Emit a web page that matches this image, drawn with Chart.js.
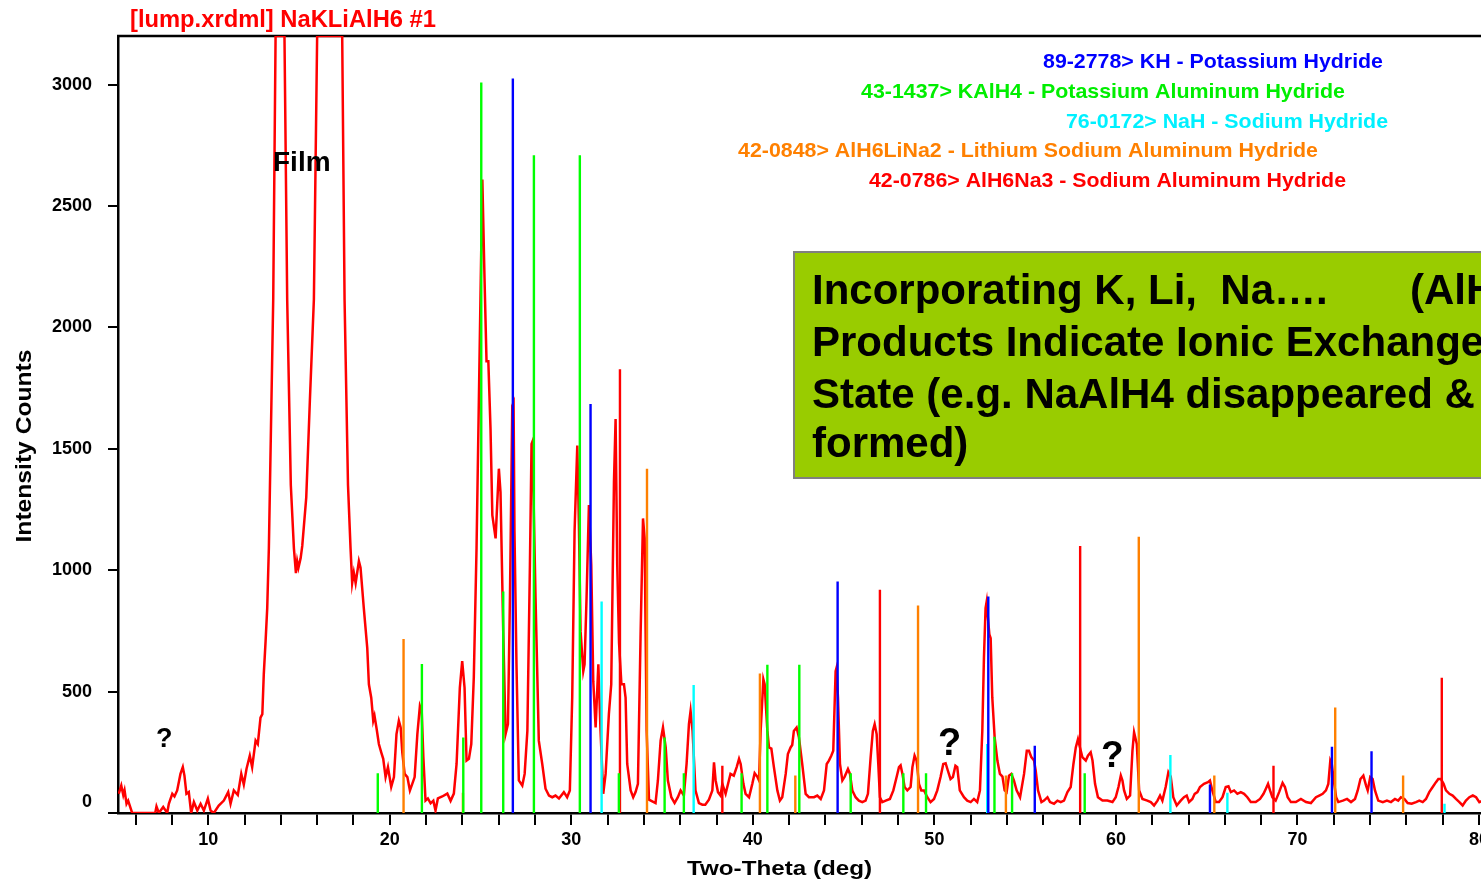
<!DOCTYPE html>
<html><head><meta charset="utf-8">
<script src="https://cdn.jsdelivr.net/npm/chart.js@4.4.1/dist/chart.umd.min.js"></script>
<style>html,body{margin:0;padding:0;overflow:hidden;background:#fff;width:1481px;height:881px}canvas{display:block}</style>
</head><body>
<canvas id="c" width="1540" height="881"></canvas>
<script>
// ---- measured pattern (Two-Theta, counts) ----
const twoTheta = [5.07,5.21,5.32,5.39,5.50,5.59,5.81,6.50,7.08,7.15,7.28,7.52,7.74,7.83,8.02,8.14,8.29,8.47,8.60,8.69,8.80,8.93,9.06,9.21,9.40,9.58,9.76,9.98,10.13,10.31,10.58,10.86,11.10,11.23,11.41,11.63,11.82,11.96,12.11,12.29,12.42,12.61,12.73,12.88,12.98,13.06,13.16,13.25,13.34,13.58,13.71,14.20,14.35,14.55,14.72,14.83,14.90,14.97,15.09,15.18,15.40,15.60,15.82,16.00,17.38,17.51,17.70,17.84,17.93,18.02,18.12,18.30,18.39,18.57,18.76,18.85,18.98,19.09,19.16,19.28,19.40,19.53,19.64,19.77,19.90,20.08,20.23,20.37,20.50,20.60,20.69,20.82,20.97,21.11,21.24,21.37,21.52,21.66,21.76,21.85,21.97,22.10,22.25,22.40,22.52,22.65,22.89,23.17,23.35,23.53,23.68,23.86,23.99,24.12,24.23,24.36,24.49,24.63,24.78,24.95,25.10,25.22,25.33,25.43,25.55,25.65,25.83,26.01,26.10,26.25,26.38,26.51,26.62,26.75,26.82,26.87,26.98,27.11,27.30,27.43,27.58,27.72,27.81,27.86,28.03,28.21,28.40,28.58,28.77,28.95,29.13,29.32,29.59,29.77,29.92,30.05,30.18,30.33,30.42,30.51,30.66,30.73,30.84,30.97,31.10,31.21,31.34,31.49,31.61,31.76,31.89,32.07,32.20,32.35,32.44,32.53,32.63,32.76,32.90,32.99,33.08,33.27,33.41,33.54,33.67,33.82,33.95,34.04,34.15,34.28,34.46,34.64,34.77,34.92,35.05,35.20,35.32,35.51,35.69,35.87,36.02,36.20,36.35,36.48,36.57,36.68,36.84,37.03,37.22,37.38,37.58,37.77,37.86,37.95,38.08,38.22,38.32,38.50,38.68,38.77,38.95,39.11,39.24,39.33,39.48,39.60,39.79,39.97,40.10,40.24,40.34,40.43,40.58,40.65,40.80,40.89,41.02,41.16,41.35,41.49,41.62,41.81,41.93,42.08,42.17,42.26,42.41,42.54,42.72,42.91,43.09,43.37,43.55,43.74,43.92,44.07,44.19,44.32,44.43,44.56,44.61,44.69,44.80,44.93,45.06,45.24,45.35,45.48,45.66,45.84,46.03,46.21,46.34,46.49,46.61,46.71,46.82,46.91,47.00,47.13,47.32,47.55,47.74,47.92,48.05,48.14,48.24,48.36,48.51,48.69,48.79,48.91,49.02,49.15,49.28,49.43,49.61,49.79,49.98,50.16,50.34,50.49,50.62,50.74,50.89,51.02,51.16,51.26,51.40,51.63,51.81,52.00,52.18,52.36,52.51,52.64,52.73,52.82,52.88,52.95,53.03,53.10,53.19,53.32,53.47,53.61,53.75,53.87,53.98,54.11,54.24,54.38,54.53,54.72,54.94,55.09,55.21,55.34,55.49,55.58,55.71,55.90,56.04,56.23,56.37,56.59,56.78,56.96,57.14,57.33,57.51,57.66,57.79,57.91,58.02,58.15,58.34,58.46,58.61,58.71,58.85,59.01,59.26,59.53,59.81,59.99,60.14,60.27,60.36,60.45,60.60,60.78,60.91,61.00,61.15,61.28,61.46,61.73,61.92,62.10,62.29,62.43,62.56,62.74,62.89,63.02,63.16,63.35,63.57,63.75,63.90,64.03,64.21,64.34,64.49,64.63,64.85,65.07,65.18,65.31,65.50,65.68,65.87,66.05,66.20,66.33,66.51,66.69,66.88,67.06,67.24,67.43,67.70,67.94,68.13,68.26,68.38,68.49,68.62,68.80,68.99,69.18,69.31,69.46,69.64,69.91,70.19,70.47,70.74,71.02,71.20,71.39,71.57,71.70,71.81,71.89,72.00,72.13,72.25,72.50,72.73,72.95,73.17,73.32,73.47,73.63,73.78,73.87,74.01,74.14,74.27,74.45,74.70,74.93,75.15,75.37,75.55,75.70,75.89,76.07,76.29,76.53,76.71,76.90,77.08,77.26,77.45,77.63,77.76,77.90,78.05,78.18,78.37,78.55,78.73,78.92,79.10,79.28,79.47,79.66,79.84,80.02,80.17,80.60,81.00];
const counts = [79,113,74,94,38,51,0,0,0,27,0,25,0,38,79,68,93,161,189,154,79,86,0,45,10,38,10,59,10,0,31,51,86,38,93,74,161,117,182,236,189,298,284,393,407,571,708,844,1090,2115,3200,3200,2115,1350,1090,988,1037,1010,1049,1100,1300,1700,2115,3200,3200,2115,1350,1090,947,990,947,1037,1010,844,680,530,475,380,400,345,284,250,223,148,189,107,148,325,380,352,250,161,148,93,120,148,325,441,420,230,51,60,40,51,10,60,68,80,50,80,202,516,626,516,216,223,284,560,1090,1900,2609,2200,1861,1861,1582,1227,1131,1418,1322,749,325,366,885,1677,1690,1159,612,134,113,161,338,1021,1520,1530,885,298,202,100,72,65,72,60,86,65,93,475,1159,1513,1186,749,584,612,885,1268,1021,543,352,612,338,79,161,407,530,1363,1623,1021,700,530,530,475,202,93,65,86,120,749,1213,1131,338,55,48,41,134,298,352,270,134,65,41,65,93,72,202,366,420,338,93,41,34,34,55,93,209,134,86,72,120,79,134,161,154,189,223,202,120,79,65,120,164,150,134,338,550,530,338,270,265,189,93,51,65,161,243,270,280,338,352,311,202,79,65,65,72,58,93,202,216,236,256,584,598,475,202,134,150,181,161,93,65,51,45,51,79,230,338,366,325,202,65,45,51,58,93,148,189,196,161,107,93,107,189,236,216,120,93,93,65,45,58,93,148,202,205,175,140,148,195,189,93,65,51,45,58,45,93,338,639,844,871,803,735,720,475,311,216,161,150,93,86,154,161,134,93,65,161,256,256,230,216,175,93,45,51,65,45,38,51,45,51,86,107,202,270,304,270,230,216,236,250,216,120,65,51,51,45,65,107,154,134,93,58,72,256,332,284,93,58,51,45,31,51,72,51,107,168,150,65,31,51,65,72,45,58,79,86,107,120,127,134,93,45,45,65,107,110,86,93,79,86,79,65,45,45,58,79,100,120,93,65,51,86,124,107,65,45,45,58,45,41,65,72,79,93,120,216,202,134,65,45,51,58,45,58,93,140,154,113,93,148,140,93,51,45,51,45,58,51,65,58,41,38,45,51,45,58,86,107,127,140,140,120,93,79,72,58,45,31,51,65,72,65,45,50,55,50];

// ---- reference patterns: positions (deg) and stick heights (counts) ----
const khPos   = [26.78,31.06,44.67,52.97,55.53,65.18,71.90,74.08];
const khInt   = [3025,1684,953,892,277,117,273,254];
const kalh4Pos = [19.34,21.77,24.05,25.04,26.25,27.94,30.47,32.62,35.14,36.20,39.38,40.80,42.56,45.39,48.29,49.54,53.31,54.28,58.28];
const kalh4Int = [164,614,311,3009,912,2709,2709,164,311,164,164,611,611,164,164,164,314,164,164];
const nahPos  = [31.67,36.74,52.91,63.00,66.14,78.10];
const nahInt  = [871,527,284,239,83,38];
const lina2Pos = [20.76,24.03,34.17,40.39,42.34,49.10,53.94,61.26,65.42,72.08,75.82];
const lina2Int = [717,83,1418,575,154,855,154,1138,154,434,154];
const na3Pos  = [32.68,38.32,47.00,58.03,68.68,77.95];
const na3Int  = [1828,195,919,1100,195,557];

const xTickValues = [6,8,10,12,14,16,18,20,22,24,26,28,30,32,34,36,38,40,42,44,46,48,50,52,54,56,58,60,62,64,66,68,70,72,74,76,78,80,82];
const xLabelTicks = [10,20,30,40,50,60,70,80];
const yTickValues = [0,500,1000,1500,2000,2500,3000];

const titleText = "[lump.xrdml] NaKLiAlH6 #1";
const legendTexts = [
  "89-2778> KH - Potassium Hydride",
  "43-1437> KAlH4 - Potassium Aluminum Hydride",
  "76-0172> NaH - Sodium Hydride",
  "42-0848> AlH6LiNa2 - Lithium Sodium Aluminum Hydride",
  "42-0786> AlH6Na3 - Sodium Aluminum Hydride"
];
const boxLines = ["Incorporating K, Li,  Na\u2026.", "Products Indicate Ionic Exchange", "State (e.g. NaAlH4 disappeared &", "formed)"];
const boxLine1Tail = "(AlH6)";

const RED = '#ff0000', BLUE = '#0000ff', GREEN = '#00ff00', CYAN = '#00ffff', ORANGE = '#ff8000';
const FF = "'Liberation Sans', Arial, Helvetica, sans-serif";

function stickData(pos, ints) {
  const d = [];
  pos.forEach((p, i) => { d.push({x: p, y: 0}, {x: p, y: ints[i]}, {x: p, y: null}); });
  return d;
}
function stickSet(pos, ints, color, order) {
  return { data: stickData(pos, ints), borderColor: color, borderWidth: 2.4, pointRadius: 0,
    showLine: true, spanGaps: false, tension: 0, order: order };
}

function drawFit(ctx, text, x, y, size, color, targetW) {
  ctx.save();
  ctx.font = 'bold ' + size + 'px ' + FF;
  const w = ctx.measureText(text).width;
  const s = targetW ? targetW / w : 1;
  ctx.translate(x, y);
  ctx.scale(s, 1);
  ctx.fillStyle = color;
  ctx.textAlign = 'left';
  ctx.textBaseline = 'alphabetic';
  ctx.fillText(text, 0, 0);
  ctx.restore();
}

const decor = {
  id: 'decor',
  beforeDatasetsDraw(chart) {
    const ctx = chart.ctx, a = chart.chartArea;
    ctx.save();
    ctx.strokeStyle = '#000';
    ctx.lineWidth = 2.5;
    ctx.beginPath();
    ctx.moveTo(a.left - 1, a.top);
    ctx.lineTo(chart.width, a.top);
    ctx.stroke();
    ctx.restore();
  },
  afterDatasetsDraw(chart) {
    const ctx = chart.ctx;
    drawFit(ctx, titleText, 130, 27, 24, RED, 306);
    const lx = [1043, 861, 1066, 738, 869];
    const ly = [68, 98, 128, 157, 187];
    const lw = [340, 484, 322, 580, 477];
    const lc = [BLUE, '#00ee00', '#00f0ff', ORANGE, RED];
    legendTexts.forEach((t, i) => drawFit(ctx, t, lx[i], ly[i], 21, lc[i], lw[i]));
    drawFit(ctx, 'Film', 273, 171, 28, '#000');
    drawFit(ctx, '?', 156, 747, 27, '#000');
    drawFit(ctx, '?', 938, 755, 38, '#000');
    drawFit(ctx, '?', 1101, 767, 37, '#000');
    drawFit(ctx, 'Two-Theta (deg)', 687, 875, 21, '#000', 185);
    ctx.save();
    ctx.translate(31, 446);
    ctx.rotate(-Math.PI / 2);
    ctx.font = 'bold 22px ' + FF;
    const w = ctx.measureText('Intensity Counts').width;
    ctx.scale(193 / w, 1);
    ctx.fillStyle = '#000';
    ctx.textAlign = 'center';
    ctx.textBaseline = 'alphabetic';
    ctx.fillText('Intensity Counts', 0, 0);
    ctx.restore();
    ctx.save();
    ctx.fillStyle = '#99cc00';
    ctx.fillRect(794, 252, 800, 226);
    ctx.strokeStyle = '#808080';
    ctx.lineWidth = 2;
    ctx.strokeRect(794, 252, 800, 226);
    ctx.restore();
    const by = [304, 356, 408, 457];
    boxLines.forEach((t, i) => drawFit(ctx, t, 812, by[i], 42, '#000'));
    drawFit(ctx, boxLine1Tail, 1410, by[0], 42, '#000');
  }
};

new Chart(document.getElementById('c'), {
  type: 'scatter',
  data: {
    datasets: [
      { data: twoTheta.map((x, i) => ({x: x, y: counts[i]})), borderColor: RED, borderWidth: 2.5,
        pointRadius: 0, showLine: true, tension: 0, order: 10 },
      stickSet(khPos, khInt, BLUE, 1),
      stickSet(kalh4Pos, kalh4Int, GREEN, 2),
      stickSet(nahPos, nahInt, CYAN, 3),
      stickSet(lina2Pos, lina2Int, ORANGE, 4),
      stickSet(na3Pos, na3Int, RED, 5)
    ]
  },
  options: {
    responsive: false,
    animation: false,
    devicePixelRatio: 1,
    layout: { padding: { top: 36, right: 6, left: 0, bottom: 0 } },
    plugins: { legend: { display: false }, tooltip: { enabled: false }, title: { display: false } },
    scales: {
      x: {
        type: 'linear', min: 5.03, max: 83.03,
        afterFit: s => { s.height = 68; },
        afterBuildTicks: s => { s.ticks = xTickValues.map(v => ({value: v})); },
        border: { display: true, color: '#000', width: 2.5 },
        grid: { drawOnChartArea: false, drawTicks: true, tickLength: 12, color: '#000', lineWidth: 2 },
        ticks: {
          autoSkip: false, maxRotation: 0, minRotation: 0, padding: 4,
          color: '#000', font: { family: FF, size: 18, weight: 'bold' },
          callback: v => xLabelTicks.includes(v) ? String(v) : ''
        }
      },
      y: {
        type: 'linear', min: 0, max: 3200,
        afterFit: s => { s.width = 118; },
        afterBuildTicks: s => { s.ticks = yTickValues.map(v => ({value: v})); },
        border: { display: true, color: '#000', width: 2.5 },
        grid: { drawOnChartArea: false, drawTicks: true, tickLength: 10, color: '#000', lineWidth: 2 },
        ticks: {
          padding: 16, color: '#000', font: { family: FF, size: 18, weight: 'bold' },
          callback: v => v === 0 ? ['0', ''] : String(v)
        }
      }
    }
  },
  plugins: [decor]
});
</script>
</body></html>
